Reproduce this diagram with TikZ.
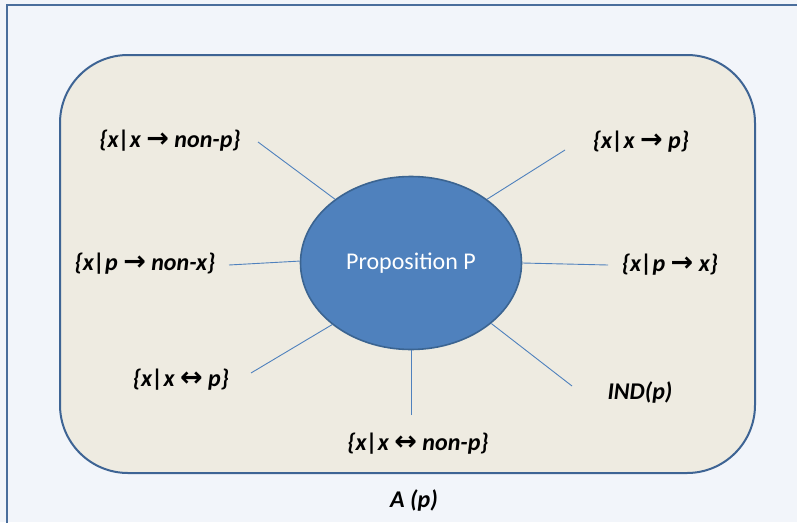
\documentclass[tikz,border=0pt]{standalone}
\usepackage{fontspec}
\setmainfont{Carlito}
\newfontfamily\arrowfont{DejaVu Sans}
\usetikzlibrary{shapes.geometric}
\definecolor{pagebg}{HTML}{F2F5FA}
\definecolor{frameline}{HTML}{4A6E9C}
\definecolor{panelfill}{HTML}{EEEBE1}
\definecolor{panelline}{HTML}{3E6494}
\definecolor{ellfill}{HTML}{4F81BD}
\definecolor{ellline}{HTML}{3B6491}
\definecolor{spoke}{HTML}{4F81BD}
\newcommand{\rarr}{\ {\arrowfont\bfseries\fontsize{27}{28}\selectfont →}\ }
\newcommand{\lrarr}{\ {\arrowfont\bfseries\fontsize{27}{28}\selectfont ↔}\ }
\tikzset{
  lbl/.style={font=\fontsize{24}{28}\selectfont\bfseries\itshape, text=black, inner sep=0pt},
  spokeline/.style={draw=spoke, line width=0.9pt},
}
\begin{document}
\begin{tikzpicture}[x=1pt,y=-1pt]
\useasboundingbox (0,0) rectangle (797,522);
\fill[pagebg] (0,0) rectangle (797,522);
\draw[frameline, line width=2.2pt] (7,530) -- (7,5) -- (805,5);
\draw[panelline, fill=panelfill, line width=2pt, rounded corners=68pt] (60,55) rectangle (755,473);
\node[ellipse, draw=ellline, fill=ellfill, line width=1.6pt, minimum width=221pt, minimum height=173pt, inner sep=0pt, text=white, font=\fontsize{24}{28}\selectfont] (P) at (411,263) {Proposition P};

\node[lbl] (a) at (170,141) {\{x|x\rarr non-p\}};
\node[lbl] (b) at (641,142) {\{x|x\rarr p\}};
\node[lbl] (c) at (145,264) {\{x|p\rarr non-x\}};
\node[lbl] (d) at (670,265) {\{x|p\rarr x\}};
\node[lbl] (e) at (181,380) {\{x|x\lrarr p\}};
\node[lbl] (f) at (640,392) {IND(p)};
\node[lbl] (g) at (418,444) {\{x|x\lrarr non-p\}};
\node[lbl] (h) at (414,500) {A (p)};

\coordinate (a1) at (258,142);
\coordinate (b1) at (565,150);
\coordinate (c1) at (229,265);
\coordinate (d1) at (608,265);
\coordinate (e1) at (251,373);
\coordinate (f1) at (572,386);
\coordinate (g1) at (411,415);

\draw[spokeline] (a1) -- (P.140);
\draw[spokeline] (b1) -- (P.40);
\draw[spokeline] (c1) -- (P.179);
\draw[spokeline] (d1) -- (P.0);
\draw[spokeline] (e1) -- (P.218);
\draw[spokeline] (f1) -- (P.323);
\draw[spokeline] (g1) -- (P.270);
\end{tikzpicture}
\end{document}
